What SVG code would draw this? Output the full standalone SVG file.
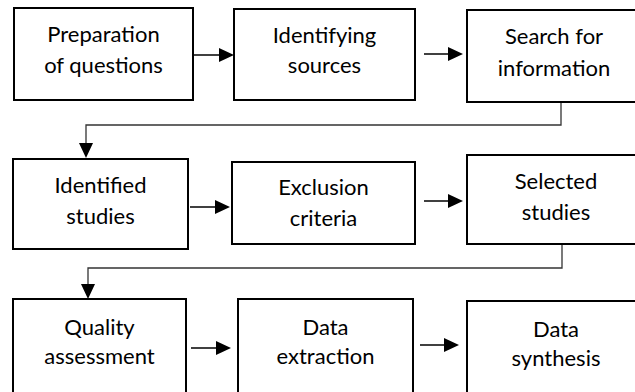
<svg xmlns="http://www.w3.org/2000/svg" width="635" height="392" viewBox="0 0 635 392">
<style>
.box{fill:#fff;stroke:#000;stroke-width:2}
.t{font-family:Lato,"Open Sans","Liberation Sans",sans-serif;font-size:22px;fill:#000;text-anchor:middle}
.ln{fill:none;stroke:#000;stroke-width:1.5}
.cn{fill:none;stroke:#333;stroke-width:1.3}
.ah{fill:#000}
</style>
<rect width="635" height="392" fill="#fff"/>
<g id="connectors">
<line class="ln" x1="194" y1="55" x2="220" y2="55"/><polygon class="ah" points="219,48 234,55 219,62"/>
<line class="ln" x1="424" y1="54" x2="449" y2="54"/><polygon class="ah" points="448,47 463,54 448,61"/>
<polyline class="cn" points="561,102 561,125 86,125 86,145"/><polygon class="ah" points="79,143 86,158 93,143"/>
<line class="ln" x1="190" y1="207" x2="216" y2="207"/><polygon class="ah" points="215,200 230,207 215,214"/>
<line class="ln" x1="424" y1="201" x2="449" y2="201"/><polygon class="ah" points="448,194 463,201 448,208"/>
<polyline class="cn" points="562,244 562,268 88,268 88,286"/><polygon class="ah" points="81,284 88,299 95,284"/>
<line class="ln" x1="191" y1="348" x2="217" y2="348"/><polygon class="ah" points="216,341 231,348 216,355"/>
<line class="ln" x1="420" y1="345" x2="445" y2="345"/><polygon class="ah" points="444,338 459,345 444,352"/>
</g>
<g id="n1"><rect class="box" x="14" y="8" width="179" height="92"/><text class="t" x="103.5" y="42">Preparation</text><text class="t" x="103.5" y="73">of questions</text></g>
<g id="n2"><rect class="box" x="234" y="9" width="181" height="91"/><text class="t" x="324.5" y="43">Identifying</text><text class="t" x="324.5" y="73">sources</text></g>
<g id="n3"><rect class="box" x="467" y="10" width="176" height="92"/><text class="t" x="554" y="44">Search for</text><text class="t" x="554" y="76">information</text></g>
<g id="n4"><rect class="box" x="13" y="159" width="175" height="90"/><text class="t" x="100.5" y="193">Identified</text><text class="t" x="100.5" y="224">studies</text></g>
<g id="n5"><rect class="box" x="232" y="162" width="183" height="82"/><text class="t" x="323.5" y="195">Exclusion</text><text class="t" x="323.5" y="226">criteria</text></g>
<g id="n6"><rect class="box" x="467" y="155" width="177" height="89"/><text class="t" x="556" y="189">Selected</text><text class="t" x="556" y="220">studies</text></g>
<g id="n7"><rect class="box" x="13" y="299" width="173" height="98"/><text class="t" x="99.5" y="335">Quality</text><text class="t" x="99.5" y="364">assessment</text></g>
<g id="n8"><rect class="box" x="238" y="299" width="175" height="98"/><text class="t" x="325.5" y="335">Data</text><text class="t" x="325.5" y="364">extraction</text></g>
<g id="n9"><rect class="box" x="467" y="301" width="177" height="96"/><text class="t" x="556" y="337">Data</text><text class="t" x="556" y="366">synthesis</text></g>
</svg>
